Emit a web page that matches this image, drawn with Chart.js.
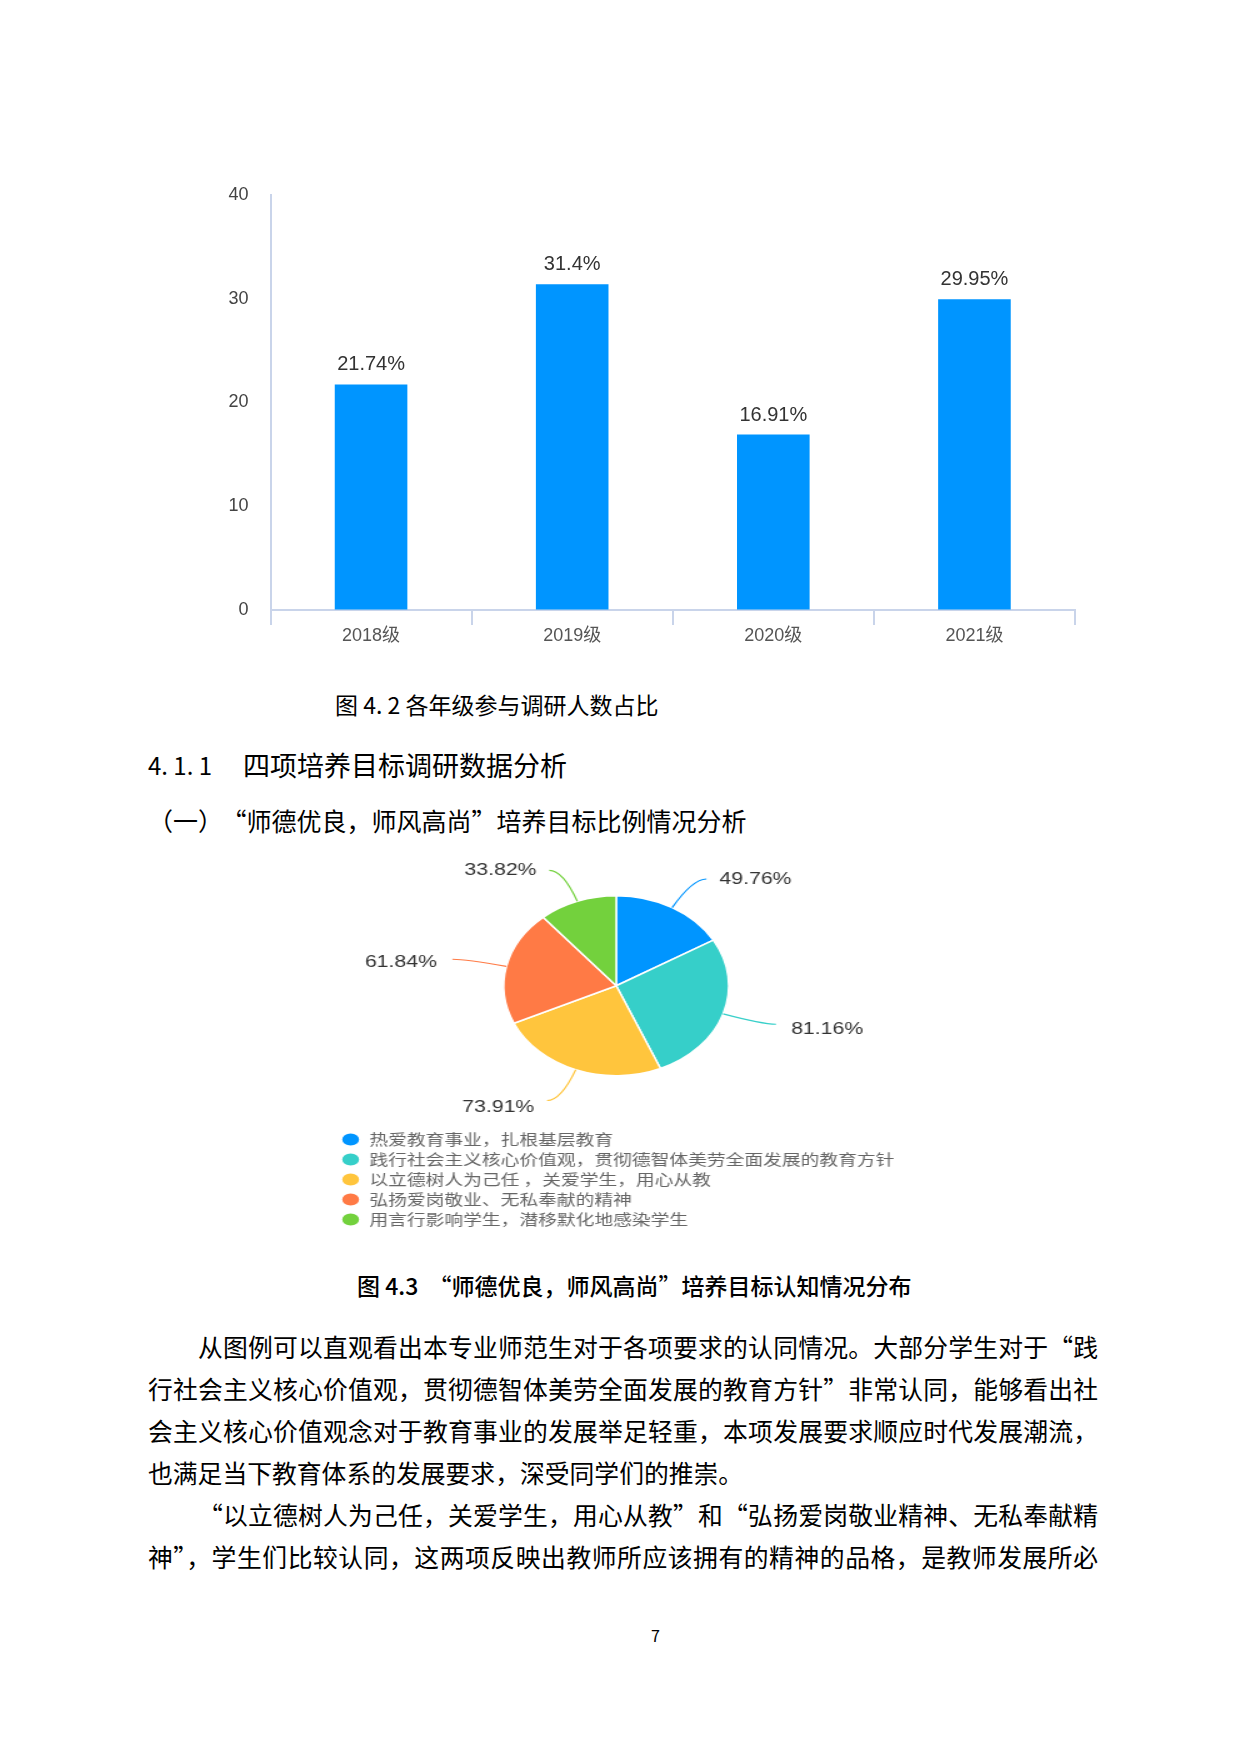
<!DOCTYPE html>
<html lang="zh-CN">
<head>
<meta charset="utf-8">
<title>各年级参与调研人数占比</title>
<script src="https://cdn.jsdelivr.net/npm/chart.js@4"></script>
<style>
  html, body { margin: 0; padding: 0; background: #fff; }
  body {
    width: 1240px; height: 1754px; position: relative; overflow: hidden;
    font-family: "Noto Sans CJK SC", sans-serif; color: #000;
  }
  .t { position: absolute; white-space: nowrap; }
  #barBox { position: absolute; left: 200px; top: 170px; width: 900px; height: 480px; }
  /* 原图中饼图被横向拉伸，这里用 scaleX 还原 */
  #pieBox {
    position: absolute; left: 335px; top: 840px; width: 450px; height: 397px;
    transform: scaleX(1.25); transform-origin: 0 0;
  }
  .p {
    position: absolute; left: 148px; width: 950px; height: 42px;
    font-size: 24.8px; line-height: 42px;
    text-align: justify; text-align-last: justify;
  }
  .p.last { text-align-last: left; }
  .p.ind { text-indent: 50px; }
</style>
</head>
<body>

<div id="barBox"><canvas id="barChart"></canvas></div>
<div class="t" style="left:335px; top:689px; font-size:23px; line-height:30px;">图 4. 2 各年级参与调研人数占比</div>

<div class="t" style="left:148px; top:750px; font-size:24px; line-height:30px;">4. 1. 1</div>
<div class="t" style="left:243px; top:750px; font-size:27px; line-height:30px;">四项培养目标调研数据分析</div>
<div class="t" style="left:148px; top:805px; font-size:25px; line-height:30px;">（一）<span style="margin-left:11px;">“师德优良，师风高尚”培养目标比例情况分析</span></div>

<div id="pieBox"><canvas id="pieChart"></canvas></div>
<div class="t" style="left:357px; top:1270px; font-size:23px; line-height:30px; font-weight:500;">图 4.3 &nbsp;“师德优良，师风高尚”培养目标认知情况分布</div>

<div class="p ind" style="top:1325px;">从图例可以直观看出本专业师范生对于各项要求的认同情况。大部分学生对于“践</div>
<div class="p" style="top:1367px;">行社会主义核心价值观，贯彻德智体美劳全面发展的教育方针”非常认同，能够看出社</div>
<div class="p" style="top:1409px;">会主义核心价值观念对于教育事业的发展举足轻重，本项发展要求顺应时代发展潮流，</div>
<div class="p last" style="top:1451px;">也满足当下教育体系的发展要求，深受同学们的推崇。</div>
<div class="p ind" style="top:1493px;">“以立德树人为己任，关爱学生，用心从教”和“弘扬爱岗敬业精神、无私奉献精</div>
<div class="p" style="top:1535px;">神”，学生们比较认同，这两项反映出教师所应该拥有的精神的品格，是教师发展所必</div>

<div class="t" style="left:651px; top:1625px; font-size:16px; line-height:20px;">7</div>

<script>
// 图 4.2 数据
const grades = ['2018级', '2019级', '2020级', '2021级'];
const gradeShares = [21.74, 31.4, 16.91, 29.95];
const yTicks = [0, 10, 20, 30, 40];

// 图 4.3 数据
const goals = [
  '热爱教育事业，扎根基层教育',
  '践行社会主义核心价值观，贯彻德智体美劳全面发展的教育方针',
  '以立德树人为己任 ，关爱学生，用心从教',
  '弘扬爱岗敬业、无私奉献的精神',
  '用言行影响学生，潜移默化地感染学生'
];
const goalShares = [49.76, 81.16, 73.91, 61.84, 33.82];
const goalColors = ['#0095ff', '#36cfc9', '#ffc53d', '#ff7a45', '#73d13d'];

const axisColor = '#c9d4ea';
Chart.defaults.font.family = '"Liberation Sans", "Noto Sans CJK SC", sans-serif';

// 柱顶的百分比标签
const barValues = {
  id: 'barValues',
  afterDatasetsDraw(chart) {
    const ctx = chart.ctx;
    ctx.save();
    ctx.font = '20px "Liberation Sans", "Noto Sans CJK SC"';
    ctx.fillStyle = '#333';
    ctx.textAlign = 'center';
    ctx.textBaseline = 'alphabetic';
    chart.getDatasetMeta(0).data.forEach((bar, i) => {
      ctx.fillText(gradeShares[i] + '%', bar.x, bar.y - 14);
    });
    ctx.restore();
  }
};

new Chart(document.getElementById('barChart'), {
  type: 'bar',
  data: {
    labels: grades,
    datasets: [{
      data: gradeShares,
      backgroundColor: '#0095ff',
      barPercentage: 0.361,
      categoryPercentage: 1
    }]
  },
  options: {
    responsive: true,
    maintainAspectRatio: false,
    animation: false,
    layout: { padding: { top: 25, right: 25, left: 0, bottom: 0 } },
    plugins: { legend: { display: false }, tooltip: { enabled: false } },
    scales: {
      x: {
        offset: true,
        grid: { display: true, drawOnChartArea: false, drawTicks: true, tickLength: 15, color: axisColor, lineWidth: 2, offset: true },
        border: { display: true, color: axisColor, width: 2 },
        ticks: { color: '#555', font: { size: 18 }, padding: 0 },
        afterFit(s) { s.height = 40; }
      },
      y: {
        min: 0,
        max: 40,
        afterBuildTicks(s) { s.ticks = yTicks.map(v => ({ value: v })); },
        ticks: { color: '#444', font: { size: 18 }, padding: 0 },
        // 不可见的刻度线只用来把刻度文字推离轴线
        grid: { display: true, drawOnChartArea: false, drawTicks: true, tickLength: 22, color: 'rgba(0,0,0,0)' },
        border: { display: true, color: axisColor, width: 2 },
        afterFit(s) { s.width = 70.5; }
      }
    }
  },
  plugins: [barValues]
});

// 饼图外侧引导线 + 百分比
const pieLabels = {
  id: 'pieLabels',
  afterDatasetsDraw(chart) {
    const ctx = chart.ctx;
    ctx.save();
    ctx.font = '17px "Liberation Sans", "Noto Sans CJK SC"';
    ctx.textBaseline = 'middle';
    ctx.lineWidth = 1.2;
    chart.getDatasetMeta(0).data.forEach((arc, i) => {
      const mid = (arc.startAngle + arc.endAngle) / 2;
      const cos = Math.cos(mid), sin = Math.sin(mid);
      const r = arc.outerRadius;
      const x0 = arc.x + cos * r, y0 = arc.y + sin * r;
      const x1 = arc.x + cos * (r + 33), y1 = arc.y + sin * (r + 33);
      const dir = cos >= 0 ? 1 : -1;
      const x2 = x1 + dir * 11;
      ctx.strokeStyle = goalColors[i];
      ctx.beginPath();
      ctx.moveTo(x0, y0);
      ctx.quadraticCurveTo(x1, y1, x2, y1);
      ctx.stroke();
      ctx.fillStyle = '#333';
      ctx.textAlign = dir > 0 ? 'left' : 'right';
      const gap = 13 - 3 * Math.abs(sin);
      ctx.fillText(goalShares[i] + '%', x2 + dir * gap, y1 + 3.5 + 4 * sin);
    });
    ctx.restore();
  }
};

new Chart(document.getElementById('pieChart'), {
  type: 'pie',
  data: {
    labels: goals,
    datasets: [{
      data: goalShares,
      backgroundColor: goalColors,
      borderColor: '#fff',
      borderWidth: 1.5,
      radius: 90
    }]
  },
  options: {
    responsive: true,
    maintainAspectRatio: false,
    animation: false,
    layout: { padding: { top: 4.5, bottom: 0, left: 0, right: 0 } },
    plugins: {
      tooltip: { enabled: false },
      legend: {
        position: 'bottom',
        align: 'start',
        labels: {
          usePointStyle: true,
          pointStyle: 'circle',
          boxHeight: 9.5,
          pointStyleWidth: 15,
          padding: 5,
          color: '#666',
          font: { size: 15, family: '"Noto Sans CJK SC", sans-serif' }
        }
      }
    }
  },
  plugins: [pieLabels]
});
</script>
</body>
</html>
